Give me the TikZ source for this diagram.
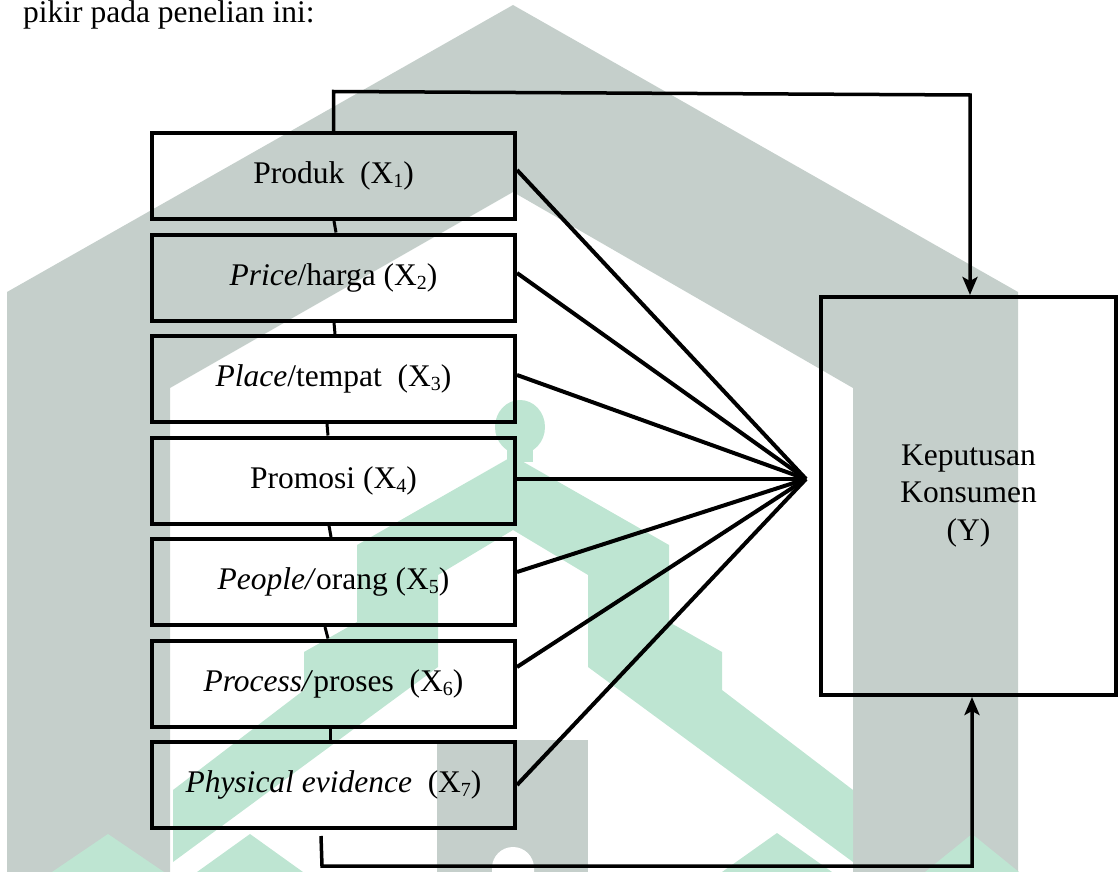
\documentclass[tikz,border=0pt]{standalone}
\usepackage{fontspec}
\setmainfont{Liberation Serif}
\usetikzlibrary{arrows.meta,calc}
\definecolor{wmgray}{RGB}{197,207,203}
\definecolor{wmgreen}{RGB}{190,229,210}
\newcommand\subx[1]{\raisebox{-0.13em}{\fontsize{20}{20}\selectfont #1}}
\begin{document}
\begin{tikzpicture}[x=1pt,y=-1pt,
  txt/.style={font=\fontsize{31.5}{37.5}\selectfont},
  inbox/.style={draw,line width=4pt,minimum width=363pt,minimum height=86pt,inner sep=0pt,txt},
  outbox/.style={draw,line width=4pt,minimum width=295pt,minimum height=398pt,inner sep=0pt,align=center,txt},
  link/.style={line width=3pt},
  fan/.style={line width=4pt},
  feed/.style={line width=3.5pt,-{Stealth[length=18pt,width=15pt,inset=4pt]}}]
\useasboundingbox (0,0) rectangle (1120,872);
% watermark
\fill[wmgray] (513,5) -- (1018,292) -- (1018,872) -- (853,872) -- (853,388) -- (513,192) -- (170,388) -- (170,872) -- (7,872) -- (7,292) -- cycle;
\fill[wmgray] (437,740) rectangle (588,872);
\fill[wmgreen] (520,427) ellipse[x radius=25, y radius=27];
\fill[wmgreen] (507,445) rectangle (533,462);
\fill[wmgreen] (513,456) -- (669,545) -- (669,622) -- (722,652) -- (722,690) -- (853,790) -- (853,862) -- (588,667) -- (588,575) -- (513,530) -- (438,575) -- (438,667) -- (173,862) -- (173,790) -- (304,690) -- (304,652) -- (357,622) -- (357,545) -- cycle;
\fill[wmgreen] (52,872) -- (108,834) -- (164,872) -- cycle;
\fill[wmgreen] (197,872) -- (250,834) -- (303,872) -- cycle;
\fill[wmgreen] (722,872) -- (777,833) -- (832,872) -- cycle;
\fill[wmgreen] (925,872) -- (972,834) -- (1019,872) -- cycle;
\fill[white] (492,872) -- (492,868) arc[start angle=180,end angle=360,radius=21] -- (534,872) -- cycle;
% text
\node[txt,anchor=base west,inner sep=0pt] (intro) at (23,23) {pikir pada penelian ini:};
% boxes
\node[inbox] (b1) at (333.5,176) {Produk\ \ (X\subx{1})};
\node[inbox] (b2) at (333.5,277.5) {\textit{Price}/harga (X\subx{2})};
\node[inbox] (b3) at (333.5,379) {\textit{Place}/tempat\ \ (X\subx{3})};
\node[inbox] (b4) at (333.5,480.5) {Promosi (X\subx{4})};
\node[inbox] (b5) at (333.5,582) {\textit{People/}orang (X\subx{5})};
\node[inbox] (b6) at (333.5,683.5) {\textit{Process/}proses\ \ (X\subx{6})};
\node[inbox] (b7) at (333.5,785) {\textit{Physical evidence}\ \ (X\subx{7})};
\node[outbox] (y) at (968.5,496) {Keputusan\\Konsumen\\(Y)};
% links between boxes
\draw[link] ([xshift=0.5pt]b1.south) -- ([xshift=2.5pt]b2.north);
\draw[link] ([xshift=0.5pt]b2.south) -- ([xshift=1.5pt]b3.north);
\draw[link] ([xshift=-6.5pt]b3.south) -- ([xshift=-5.5pt]b4.north);
\draw[link] ([xshift=-4.5pt]b4.south) -- ([xshift=-2.5pt]b5.north);
\draw[link] ([xshift=-8.5pt]b5.south) -- ([xshift=-5.5pt]b6.north);
\draw[link] ([xshift=-3.5pt]b6.south) -- ([xshift=-3.5pt]b7.north);
% fan
\coordinate (hub) at (806,479);
\draw[fan] ([yshift=6pt]b1.east) -- (hub);
\draw[fan] ([yshift=4.5pt]b2.east) -- (hub);
\draw[fan] ([yshift=4pt]b3.east) -- (hub);
\draw[fan] ([yshift=1.5pt]b4.east) -- (hub);
\draw[fan] ([yshift=10pt]b5.east) -- (hub);
\draw[fan] ([yshift=16.5pt]b6.east) -- (hub);
\draw[fan] (b7.east) -- (hub);
% feedback connectors
\coordinate (t1) at (333.5,91.5);
\coordinate (t2) at (970,95);
\draw[feed] (b1.north) -- (t1) -- (t2) -- (y.north -| t2);
\coordinate (s7) at (321,836);
\coordinate (u1) at (322,866);
\coordinate (u2) at (972,866);
\draw[feed] (s7) -- (u1) -- (u2) -- (y.south -| u2);
\end{tikzpicture}
\end{document}
